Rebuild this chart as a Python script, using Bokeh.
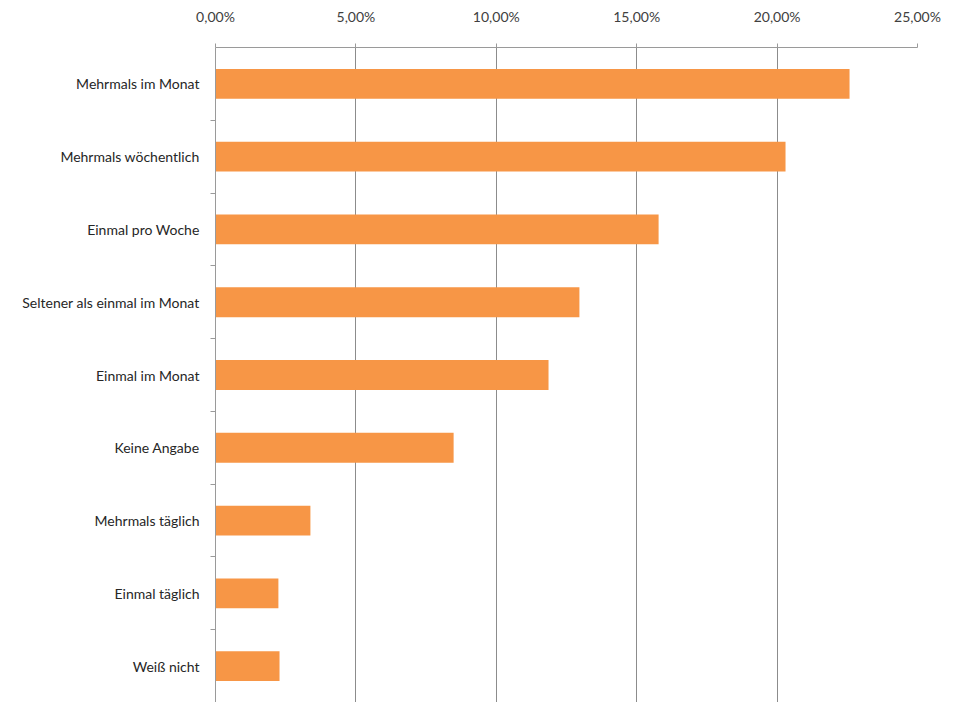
from bokeh.plotting import figure
from bokeh.models import Range1d, FixedTicker, CustomJSTickFormatter, ColumnDataSource
from bokeh.embed import file_html
from bokeh.resources import INLINE

categories = ["Mehrmals im Monat", "Mehrmals wöchentlich", "Einmal pro Woche",
              "Seltener als einmal im Monat", "Einmal im Monat", "Keine Angabe",
              "Mehrmals täglich", "Einmal täglich", "Weiß nicht"]
values = [22.58, 20.3, 15.78, 12.96, 11.86, 8.48, 3.38, 2.24, 2.28]
x_ticks = [0, 5, 10, 15, 20, 25]

n = len(categories)
pos = [i + 0.5 for i in range(n)]
src = ColumnDataSource(dict(y=pos, v=values, cat=categories))

p = figure(width=957, height=702, output_backend="svg", toolbar_location=None,
           x_range=Range1d(0, 25), y_range=Range1d(n, 0),
           x_axis_location="above", min_border_left=215, min_border_right=40,
           min_border_top=47, min_border_bottom=0, frame_width=702, frame_height=655)
p.outline_line_color = None
p.background_fill_color = "white"
p.border_fill_color = "white"

p.hbar(y="y", right="v", left=0, height=0.41, source=src, color="#F79646", line_color=None)

# x axis (top)
xa = p.xaxis[0]
xa.ticker = FixedTicker(ticks=x_ticks, minor_ticks=[])
xa.formatter = CustomJSTickFormatter(code="return tick.toFixed(2).replace('.', ',') + '%';")
xa.axis_line_color = "#9a9a9a"
xa.major_tick_line_color = "#9a9a9a"
xa.major_tick_out = 4
xa.major_tick_in = 0
xa.major_label_text_font = "Lato"
xa.major_label_text_font_size = "14px"
xa.major_label_text_color = "#404040"
xa.major_label_standoff = 19

# y axis (left) with labels at centers and minor ticks at boundaries
ya = p.yaxis[0]
ya.ticker = FixedTicker(ticks=pos, minor_ticks=list(range(1, n)))
ya.major_label_overrides = {pos[i]: categories[i] for i in range(n)}
ya.axis_line_color = "#9a9a9a"
ya.major_tick_line_color = None
ya.minor_tick_line_color = "#9a9a9a"
ya.minor_tick_out = 5
ya.minor_tick_in = 0
ya.major_label_text_font = "Lato"
ya.major_label_text_font_size = "14px"
ya.major_label_text_color = "#262626"
ya.major_label_standoff = 10

p.ygrid.grid_line_color = None
p.xgrid.grid_line_color = "#8c8c8c"
p.xgrid.ticker = FixedTicker(ticks=x_ticks)

open("out.html", "w").write(file_html(p, INLINE))
